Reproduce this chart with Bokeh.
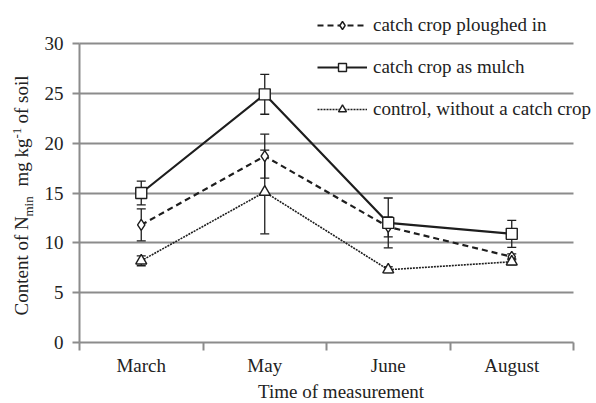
import math
from bokeh.plotting import figure
from bokeh.models import (Range1d, FixedTicker, Legend, LegendItem, Whisker,
                          ColumnDataSource, Label, TeeHead)
from bokeh.embed import file_html
from bokeh.resources import INLINE

# ---- data ----
months = ["March", "May", "June", "August"]
ploughed = [11.8, 18.7, 11.6, 8.6]
ploughed_err = [1.6, 2.2, 1.0, 0.3]
mulch = [15.0, 24.9, 12.0, 10.9]
mulch_err = [1.2, 2.0, 2.5, 1.35]
control = [8.2, 15.1, 7.3, 8.1]
control_err = [0.5, 4.2, 0.3, 0.3]
y_ticks = [0, 5, 10, 15, 20, 25, 30]
series_labels = ["catch crop ploughed in", "catch crop as mulch",
                 "control, without a catch crop"]
x_title = "Time  of measurement"
y_title_parts = ["Content of N", "min", "mg kg", "-1", "of soil"]

FONT = "Liberation Serif"
GRID = "#8c8c8c"
INK = "#1e1e1e"
TXT = "#222222"

# ---- layout (pixels of the 596x403 canvas) ----
W, H = 596, 403
AX_L, AX_R = 79, 573      # x-axis extent
AX_B, AX_T = 342, 43      # y=0 and y=30 rows
n = len(months)
ymax = y_ticks[-1]
px_x = (AX_R - AX_L) / n
px_y = (AX_B - AX_T) / ymax
x_range = Range1d(-AX_L / px_x, n + (W - AX_R) / px_x)
y_range = Range1d(-(H - AX_B) / px_y, ymax + AX_T / px_y)

def sy(page_y):          # page row -> frame screen y (from bottom)
    return H - page_y

xs = [i + 0.5 for i in range(n)]

p = figure(width=W, height=H, output_backend="svg", toolbar_location=None,
           x_range=x_range, y_range=y_range,
           min_border_left=0, min_border_right=0, min_border_top=0,
           min_border_bottom=0)
p.outline_line_color = None
p.background_fill_color = "white"
p.border_fill_color = "white"

# axes (drawn at fixed data locations inside the frame)
xa = p.xaxis[0]
xa.fixed_location = 0
xa.bounds = (0, n)
xa.ticker = FixedTicker(ticks=xs, minor_ticks=list(range(n + 1)))
xa.major_label_overrides = {x: m for x, m in zip(xs, months)}
xa.major_tick_line_color = None
xa.minor_tick_line_color = GRID
xa.minor_tick_line_width = 2
xa.minor_tick_out = 8
xa.minor_tick_in = 0
xa.axis_line_color = GRID
xa.axis_line_width = 2
xa.major_label_text_font = FONT
xa.major_label_text_font_size = "19px"
xa.major_label_text_color = TXT
xa.major_label_standoff = 4

ya = p.yaxis[0]
ya.fixed_location = 0
ya.bounds = (0, ymax)
ya.ticker = FixedTicker(ticks=y_ticks)
ya.major_tick_line_color = GRID
ya.major_tick_line_width = 2
ya.major_tick_out = 7
ya.major_tick_in = 0
ya.minor_tick_line_color = None
ya.axis_line_color = GRID
ya.axis_line_width = 2
ya.major_label_text_font = FONT
ya.major_label_text_font_size = "19px"
ya.major_label_text_color = TXT
ya.major_label_standoff = 9

p.xgrid.grid_line_color = None
p.ygrid.ticker = FixedTicker(ticks=y_ticks[1:])
p.ygrid.grid_line_color = GRID
p.ygrid.grid_line_width = 2
p.ygrid.bounds = (y_ticks[1], ymax)
try:
    p.ygrid.cross_bounds = (0, n)
except Exception:
    p.ygrid.grid_line_color = None
    p.segment(x0=0, x1=n, y0=y_ticks[1:], y1=y_ticks[1:],
              line_color=GRID, line_width=2)

# error bars
def add_err(vals, errs):
    src = ColumnDataSource(dict(x=xs, lo=[v - e for v, e in zip(vals, errs)],
                                hi=[v + e for v, e in zip(vals, errs)]))
    w = Whisker(source=src, base="x", lower="lo", upper="hi",
                line_color=INK, line_width=1.3,
                upper_head=TeeHead(size=9, line_color=INK, line_width=1.3),
                lower_head=TeeHead(size=9, line_color=INK, line_width=1.3))
    p.add_layout(w)

add_err(ploughed, ploughed_err)
add_err(mulch, mulch_err)
add_err(control, control_err)

# series
l1 = p.line(xs, ploughed, line_color=INK, line_width=2.2, line_dash="6 4")
m1 = p.scatter(xs, ploughed, marker="diamond", size=11, fill_color="white",
               line_color=INK, line_width=1.4)
l2 = p.line(xs, mulch, line_color=INK, line_width=2.2)
m2 = p.scatter(xs, mulch, marker="square", size=11, fill_color="white",
               line_color=INK, line_width=1.4)
l3 = p.line(xs, control, line_color=INK, line_width=1.6, line_dash="2 1")
m3 = p.scatter(xs, control, marker="triangle", size=11, fill_color="white",
               line_color=INK, line_width=1.4)

legend = Legend(items=[LegendItem(label=series_labels[0], renderers=[l1, m1]),
                       LegendItem(label=series_labels[1], renderers=[l2, m2]),
                       LegendItem(label=series_labels[2], renderers=[l3, m3])],
                location=(317, sy(120)), orientation="vertical",
                background_fill_alpha=0, border_line_alpha=0,
                padding=0, margin=0, spacing=20,
                glyph_width=50, glyph_height=20, label_height=20,
                label_standoff=6,
                label_text_font=FONT, label_text_font_size="19px",
                label_text_color=TXT)
p.add_layout(legend, "center")

# axis titles
def lab(text, x, page_y, size, angle=0.0, align="left", baseline="middle"):
    p.add_layout(Label(x=x, y=sy(page_y), x_units="screen", y_units="screen",
                       text=text, angle=angle, text_align=align,
                       text_baseline=baseline, text_font=FONT,
                       text_font_size=size, text_color=TXT))

lab(x_title, 343, 391, "19px", align="center")

V = math.pi / 2
lab(y_title_parts[0], 21, 315, "19px", V)
lab(y_title_parts[1], 28, 216, "13px", V)
lab(y_title_parts[2], 21, 186, "19px", V)
lab(y_title_parts[3], 16, 138, "13px", V)
lab(y_title_parts[4], 21, 123, "19px", V)

open("out.html", "w").write(file_html(p, INLINE))
